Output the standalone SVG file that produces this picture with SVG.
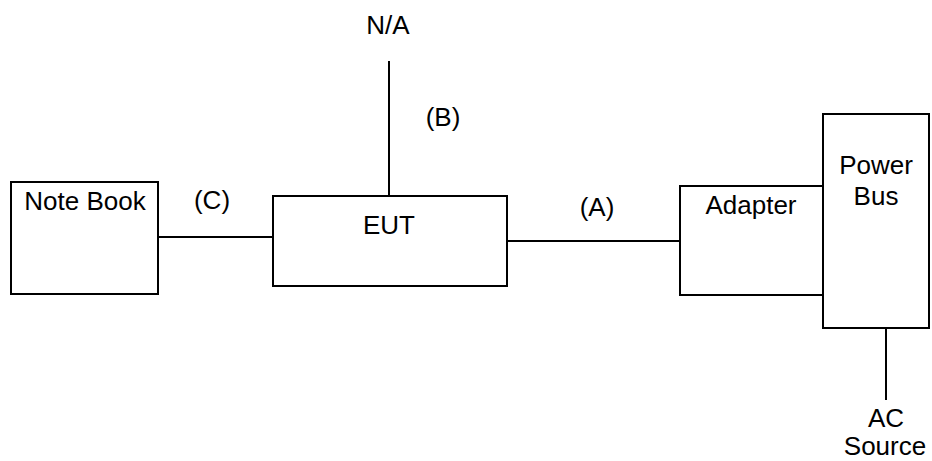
<svg xmlns="http://www.w3.org/2000/svg" width="932" height="461" viewBox="0 0 932 461">
<style>
.box{fill:#fff;stroke:#000;stroke-width:2}
.ln{stroke:#000;stroke-width:2;fill:none}
text{font-family:"Liberation Sans",Arial,sans-serif;font-size:26px;fill:#000;text-anchor:middle}
</style>
<rect width="932" height="461" fill="#fff"/>
<g id="connectors">
<line class="ln" x1="158" y1="237" x2="273" y2="237"/>
<line class="ln" x1="389" y1="61" x2="389" y2="196"/>
<line class="ln" x1="507" y1="241" x2="680" y2="241"/>
<line class="ln" x1="886" y1="328" x2="886" y2="400"/>
<text x="212" y="209">(C)</text>
<text x="443" y="126">(B)</text>
<text x="597" y="216">(A)</text>
</g>
<g id="notebook">
<rect class="box" x="11" y="182" width="147" height="112"/>
<text x="85" y="210">Note Book</text>
</g>
<g id="eut">
<rect class="box" x="273" y="196" width="234" height="90"/>
<text x="389" y="234">EUT</text>
</g>
<g id="na">
<text x="388" y="34">N/A</text>
</g>
<g id="adapter">
<rect class="box" x="680" y="186" width="143" height="109"/>
<text x="751" y="214">Adapter</text>
</g>
<g id="powerbus">
<rect class="box" x="823" y="114" width="106" height="214"/>
<text x="876" y="174">Power</text>
<text x="876" y="205">Bus</text>
</g>
<g id="acsource">
<text x="886" y="427">AC</text>
<text x="885" y="455">Source</text>
</g>
</svg>
